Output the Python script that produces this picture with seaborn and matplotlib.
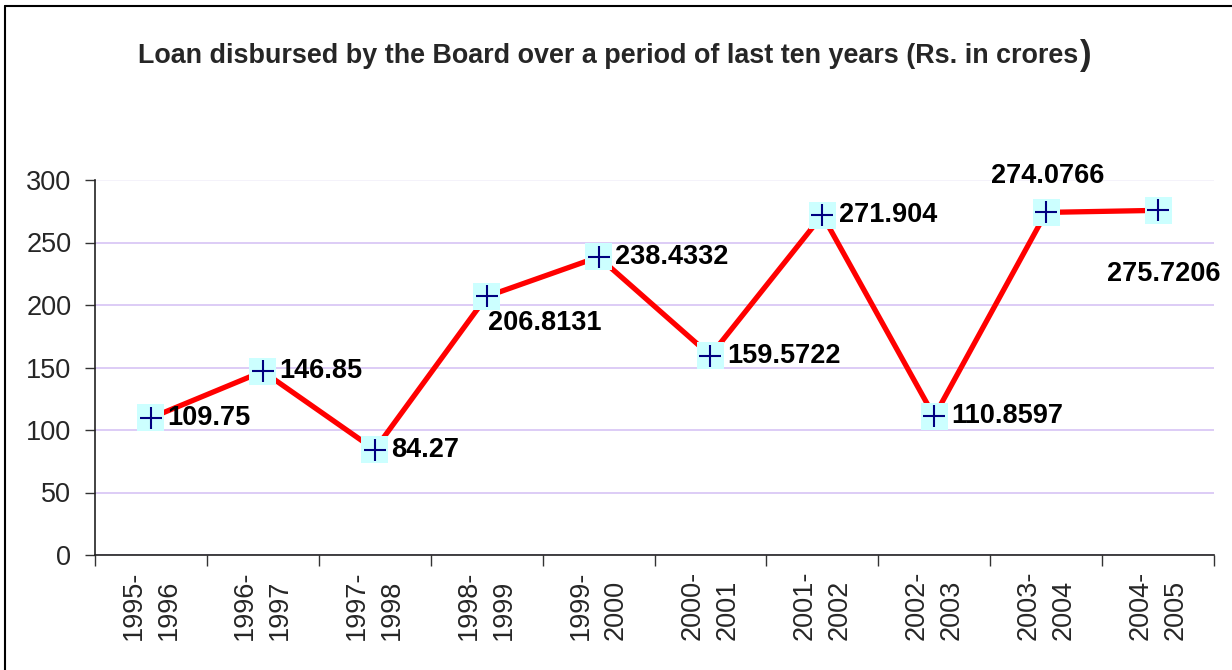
import matplotlib
matplotlib.use("Agg")
import matplotlib.pyplot as plt
import seaborn as sns
import pandas as pd
from matplotlib.lines import Line2D
from matplotlib.ticker import FixedLocator, NullFormatter

categories = ["1995-\n1996", "1996-\n1997", "1997-\n1998", "1998-\n1999", "1999-\n2000",
              "2000-\n2001", "2001-\n2002", "2002-\n2003", "2003-\n2004", "2004-\n2005"]
values = [109.75, 146.85, 84.27, 206.8131, 238.4332, 159.5722, 271.904, 110.8597, 274.0766, 275.7206]
value_labels = ["109.75", "146.85", "84.27", "206.8131", "238.4332", "159.5722",
                "271.904", "110.8597", "274.0766", "275.7206"]
yticks = [0, 50, 100, 150, 200, 250, 300]
title_text = "Loan disbursed by the Board over a period of last ten years (Rs. in crores"

sns.set_theme(style="white")
plt.rcParams["font.family"] = ["Liberation Sans", "DejaVu Sans"]

df = pd.DataFrame({"period": categories, "loan": values})

fig = plt.figure(figsize=(12.32, 6.70), dpi=100)
ax = fig.add_axes([95 / 1232, 1 - 555 / 670, (1214 - 95) / 1232, (555 - 180) / 670])

sns.lineplot(data=df, x="period", y="loan", ax=ax, color="#FF0000", linewidth=3.8,
             sort=False, zorder=3)
sns.scatterplot(data=df, x="period", y="loan", ax=ax, marker="s", s=380,
                color="#CCFFFF", edgecolor="none", zorder=4)
sns.scatterplot(data=df, x="period", y="loan", ax=ax, marker="+", s=230,
                color="#000080", linewidth=1.5, zorder=5)

ax.set_xlim(-0.5, len(categories) - 0.5)
ax.set_ylim(0, 300)
ax.set_yticks(yticks)
ax.set_yticklabels([str(t) for t in yticks], fontsize=19.5)
ax.set_xticks(range(len(categories)))
ax.set_xticklabels(categories, rotation=90, fontsize=19.5, linespacing=1.45,
                   va="top", ha="center", multialignment="left")
ax.tick_params(axis="x", which="major", length=0, pad=11)
ax.xaxis.set_minor_locator(FixedLocator([i - 0.5 for i in range(len(categories) + 1)]))
ax.xaxis.set_minor_formatter(NullFormatter())
ax.tick_params(axis="x", which="minor", bottom=True, length=8, width=1, color="#333333",
               direction="out")
ax.tick_params(axis="y", which="major", left=True, length=7, width=1, color="#333333",
               direction="out", pad=10)
ax.set_xlabel("")
ax.set_ylabel("")

for s in ["top", "right"]:
    ax.spines[s].set_visible(False)
for s in ["left", "bottom"]:
    ax.spines[s].set_color("#222222")
    ax.spines[s].set_linewidth(1.2)

ax.yaxis.grid(True, color="#D7C4F5", linewidth=1.2)
ax.set_axisbelow(True)
glines = ax.get_ygridlines()
glines[-1].set_color("#F2F0FA")

# data labels: (dx, dy) in points, ha
offsets = [(12, 0, "left"), (12, 0, "left"), (12, 0, "left"), (1, -19, "left"),
           (12, 0, "left"), (12, 0, "left"), (12, 0, "left"), (12, 0, "left"),
           (1, 26, "center"), (4, -46, "center")]
for i, (v, lab) in enumerate(zip(values, value_labels)):
    dx, dy, ha = offsets[i]
    ax.annotate(lab, xy=(i, v), xytext=(dx, dy), textcoords="offset points",
                ha=ha, va="center", fontsize=19.5, fontweight="bold", color="#000000",
                zorder=6)

t = fig.text(138 / 1232, 1 - 56 / 670, title_text, ha="left", va="center",
             fontsize=19.4, fontweight="bold")
fig.canvas.draw()
ax.annotate(")", xy=(1, 0.5), xycoords=t, xytext=(1, 0), textcoords="offset points",
            ha="left", va="center", fontsize=25, fontweight="bold",
            annotation_clip=False)

fig.add_artist(Line2D([5 / 1232, 5 / 1232], [0, 1 - 6 / 670], color="black",
                      linewidth=1.5, transform=fig.transFigure))
fig.add_artist(Line2D([5 / 1232, 1], [1 - 6 / 670, 1 - 6 / 670], color="black",
                      linewidth=1.5, transform=fig.transFigure))

fig.savefig("out.png", dpi=100)
